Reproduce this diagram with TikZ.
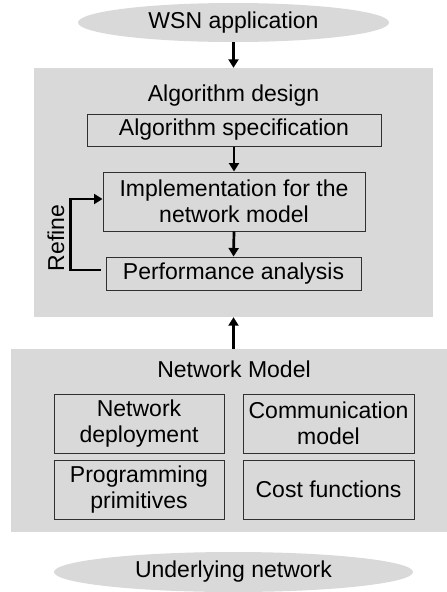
\documentclass[tikz,border=0pt]{standalone}
\usepackage{fontspec}
\setmainfont{Liberation Sans}
\usetikzlibrary{shapes.geometric,arrows.meta}
\definecolor{bgg}{HTML}{D9D9D9}
\definecolor{edg}{HTML}{303030}
\begin{document}
\begin{tikzpicture}[x=1pt,y=-1pt,
  every node/.style={font=\fontsize{23}{26.5}\selectfont, text=black, inner sep=0pt, align=center},
  ell/.style={ellipse, fill=bgg},
  panel/.style={rectangle, fill=bgg},
  inbox/.style={rectangle, draw=edg, line width=1pt, fill=bgg},
  arr/.style={line width=2.7pt, -{Triangle[width=10pt,length=8.5pt]}}]
\useasboundingbox (0,0) rectangle (447,592);
\fill[white] (0,0) rectangle (447,592);
\node[ell, minimum width=311, minimum height=39] (wsn) at (233.5,22.5) {WSN application};
\node[panel, minimum width=399, minimum height=249] (alg) at (233.5,192.5) {};
\node (algt) at (233.5,96) {Algorithm design};
\node[inbox, minimum width=294, minimum height=32] (spec) at (234,130) {Algorithm specification};
\node[inbox, minimum width=262, minimum height=59] (impl) at (234,201.5) {Implementation for the\\network model};
\node[inbox, minimum width=255, minimum height=33] (perf) at (233.5,273.5) {Performance analysis};
\node[rotate=90] (ref) at (56,238) {Refine};
\node[panel, minimum width=436, minimum height=183] (net) at (229,440.5) {};
\node (nett) at (234,369) {Network Model};
\node[inbox, minimum width=170, minimum height=59] (dep) at (139,423.5) {Network\\deployment};
\node[inbox, minimum width=171, minimum height=59] (comm) at (328.5,423.5) {Communication\\model};
\node[inbox, minimum width=170, minimum height=59] (prog) at (139,489.5) {Programming\\primitives};
\node[inbox, minimum width=171, minimum height=59] (cost) at (328.5,489.5) {Cost functions};
\node[ell, minimum width=359, minimum height=40] (und) at (233.5,572) {Underlying network};
\draw[arr] (wsn.south) -- (alg.north);
\draw[arr] (spec.south) -- (impl.north);
\draw[arr] (impl.south) -- (perf.north);
\draw[arr] (alg.south |- net.north) -- (alg.south);
\draw[arr] ([xshift=-5pt,yshift=3.5pt]perf.west) -- ++(-30,0) |- ([yshift=2.5pt]impl.west);
\end{tikzpicture}
\end{document}
